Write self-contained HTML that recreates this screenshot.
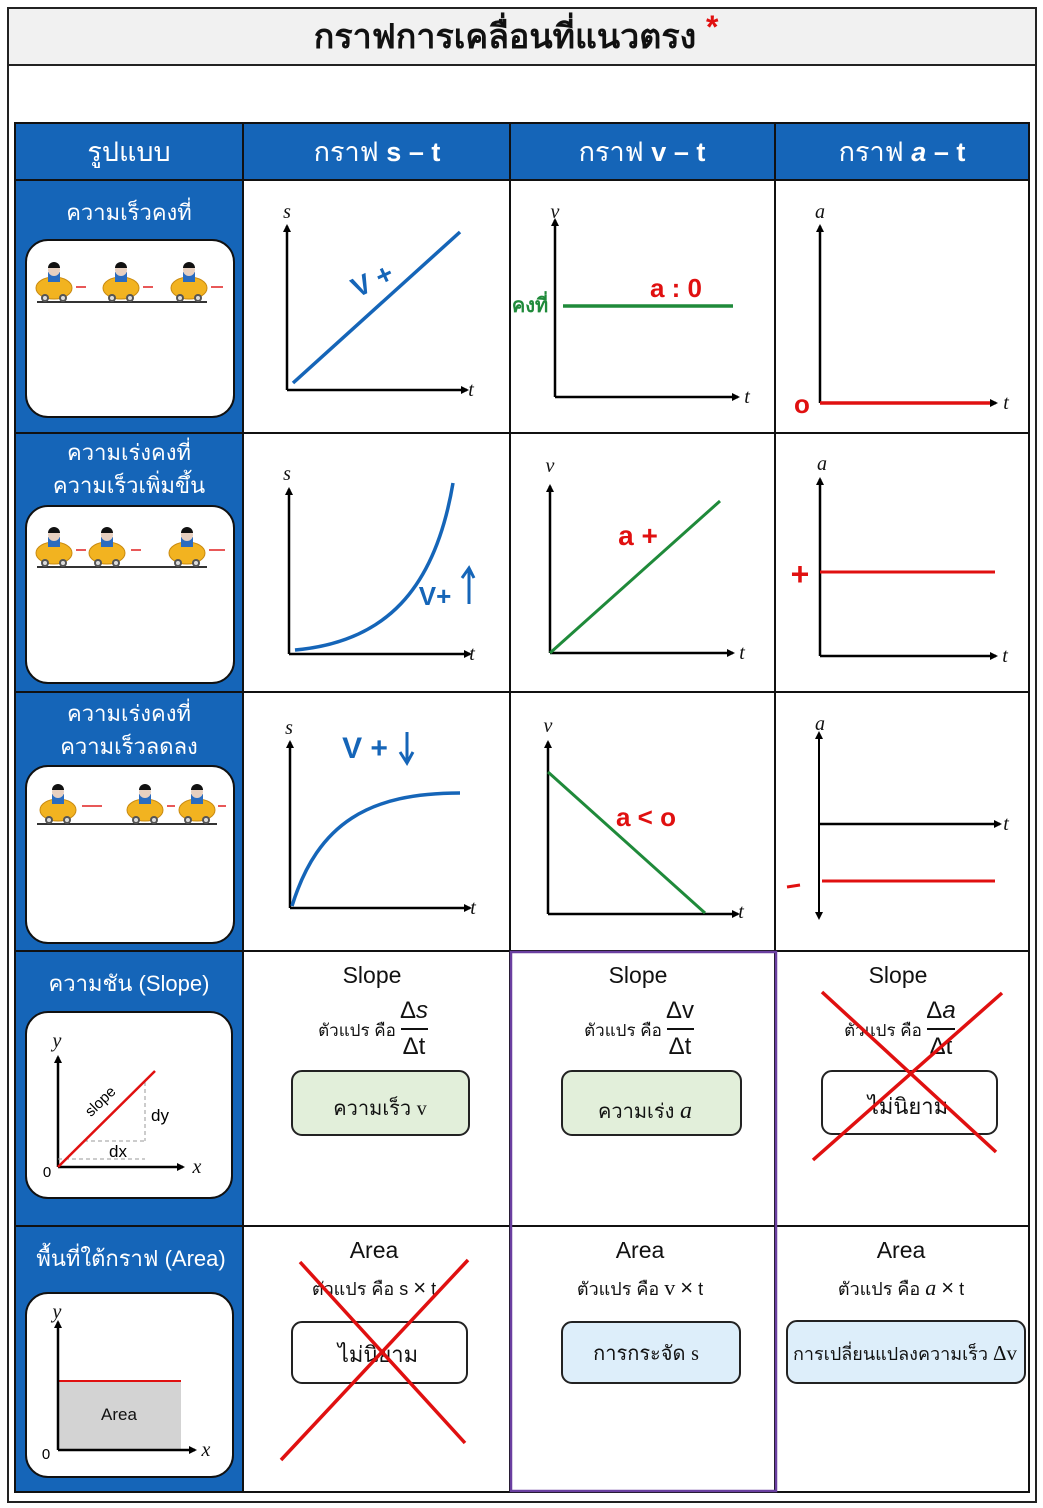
<!DOCTYPE html>
<html><head><meta charset="utf-8"><style>
html,body{margin:0;padding:0;background:#fff;}
svg{display:block;}
text{font-family:"Liberation Sans","DejaVu Sans",sans-serif;}
.w{fill:#fff;font-size:22px;text-anchor:middle;}
.h{fill:#fff;font-size:27px;text-anchor:middle;}
.ax{stroke:#000;stroke-width:2.5;fill:none;}
.lab{font-family:"Liberation Serif",serif;font-style:italic;font-size:20px;text-anchor:middle;fill:#111;}
.c{text-anchor:middle;fill:#111;}
</style></head><body>
<svg width="1043" height="1508" viewBox="0 0 1043 1508" xmlns="http://www.w3.org/2000/svg">
<defs>
<marker id="ar" markerWidth="8" markerHeight="8" refX="6" refY="4" orient="auto" markerUnits="userSpaceOnUse"><path d="M0,0 L8,4 L0,8 Z" fill="#000"/></marker>
<g id="car">
<ellipse cx="0" cy="-6" rx="18" ry="11" fill="#f2b320" stroke="#c98a10" stroke-width="1"/>
<rect x="-6" y="-22" width="12" height="10" fill="#2a6cc0"/>
<circle cx="0" cy="-24" r="6" fill="#e8d0c0"/>
<path d="M-6,-26 A6,6 0 0 1 6,-26 Z" fill="#111"/>
<circle cx="-9" cy="4" r="4" fill="#555"/><circle cx="9" cy="4" r="4" fill="#555"/>
<circle cx="-9" cy="4" r="2" fill="#ddd"/><circle cx="9" cy="4" r="2" fill="#ddd"/>
</g>
</defs>
<rect x="8" y="8" width="1028" height="1494" fill="#fff" stroke="#222" stroke-width="2"/>
<rect x="9" y="9" width="1026" height="56" fill="#f1f1f1"/>
<line x1="8" y1="65" x2="1036" y2="65" stroke="#222" stroke-width="2"/>
<text x="505" y="48" font-size="34" font-weight="bold" text-anchor="middle" fill="#111">กราฟการเคลื่อนที่แนวตรง</text>
<text x="706" y="38" font-size="32" font-weight="bold" fill="#e01010">*</text>

<rect x="15" y="123" width="1014" height="57" fill="#1565b8"/>
<rect x="15" y="180" width="228" height="1312" fill="#1565b8"/>
<g stroke="#111" stroke-width="2" fill="none">
<rect x="15" y="123" width="1014" height="1369"/>
<line x1="243" y1="123" x2="243" y2="1492"/>
<line x1="510" y1="123" x2="510" y2="1492"/>
<line x1="775" y1="123" x2="775" y2="1492"/>
<line x1="15" y1="180" x2="1029" y2="180"/>
<line x1="15" y1="433" x2="1029" y2="433"/>
<line x1="15" y1="692" x2="1029" y2="692"/>
<line x1="15" y1="951" x2="1029" y2="951"/>
<line x1="15" y1="1226" x2="1029" y2="1226"/>
</g>
<rect x="511" y="952" width="265" height="539" fill="none" stroke="#6a3fa0" stroke-width="2.5"/>

<text class="h" x="129" y="161">รูปแบบ</text>
<text class="h" x="377" y="161">กราฟ <tspan font-weight="bold">s – t</tspan></text>
<text class="h" x="642" y="161">กราฟ <tspan font-weight="bold">v – t</tspan></text>
<text class="h" x="902" y="161">กราฟ <tspan font-weight="bold" font-style="italic">a</tspan><tspan font-weight="bold"> – t</tspan></text>

<text class="w" x="129" y="220">ความเร็วคงที่</text>
<rect x="26" y="240" width="208" height="177" rx="22" fill="#fff" stroke="#111" stroke-width="2"/>
<line x1="37" y1="302" x2="207" y2="302" stroke="#333" stroke-width="2"/>
<use href="#car" x="54" y="294"/><use href="#car" x="121" y="294"/><use href="#car" x="189" y="294"/>
<g stroke="#e02020" stroke-width="1.5" fill="none"><path d="M76,287 h10"/><path d="M143,287 h10"/><path d="M211,287 h12"/></g>

<text class="w" x="129" y="460">ความเร่งคงที่</text>
<text class="w" x="129" y="493">ความเร็วเพิ่มขึ้น</text>
<rect x="26" y="506" width="208" height="177" rx="22" fill="#fff" stroke="#111" stroke-width="2"/>
<line x1="37" y1="567" x2="207" y2="567" stroke="#333" stroke-width="2"/>
<use href="#car" x="54" y="559"/><use href="#car" x="107" y="559"/><use href="#car" x="187" y="559"/>
<g stroke="#e02020" stroke-width="1.5" fill="none"><path d="M76,550 h10"/><path d="M131,550 h10"/><path d="M209,550 h16"/></g>

<text class="w" x="129" y="721">ความเร่งคงที่</text>
<text class="w" x="129" y="754">ความเร็วลดลง</text>
<rect x="26" y="766" width="208" height="177" rx="22" fill="#fff" stroke="#111" stroke-width="2"/>
<line x1="37" y1="824" x2="217" y2="824" stroke="#333" stroke-width="2"/>
<use href="#car" x="58" y="816"/><use href="#car" x="145" y="816"/><use href="#car" x="197" y="816"/>
<g stroke="#e02020" stroke-width="1.5" fill="none"><path d="M82,806 h20"/><path d="M167,806 h8"/><path d="M218,806 h8"/></g>

<text class="w" x="129" y="991">ความชัน (Slope)</text>
<rect x="26" y="1012" width="206" height="186" rx="22" fill="#fff" stroke="#111" stroke-width="2"/>
<line class="ax" x1="58" y1="1167" x2="58" y2="1057" marker-end="url(#ar)" stroke-width="2"/>
<line class="ax" x1="58" y1="1167" x2="183" y2="1167" marker-end="url(#ar)" stroke-width="2"/>
<g stroke="#999" stroke-width="1" stroke-dasharray="4,3"><line x1="145" y1="1082" x2="145" y2="1141"/><line x1="84" y1="1141" x2="145" y2="1141"/><line x1="58" y1="1159" x2="145" y2="1159"/></g>
<line x1="58" y1="1167" x2="155" y2="1071" stroke="#e01010" stroke-width="2.5"/>
<text class="lab" x="57" y="1047" font-size="16">y</text>
<text class="lab" x="197" y="1173" font-size="16">x</text>
<text x="47" y="1177" font-family="Liberation Serif" font-size="15" text-anchor="middle">0</text>
<text x="160" y="1121" font-family="Liberation Serif" font-size="17" text-anchor="middle">dy</text>
<text x="118" y="1157" font-family="Liberation Serif" font-size="17" text-anchor="middle">dx</text>
<text x="101" y="1106" font-size="15" text-anchor="middle" transform="rotate(-44 101 1102)">slope</text>

<text class="w" x="131" y="1266">พื้นที่ใต้กราฟ (Area)</text>
<rect x="26" y="1293" width="207" height="184" rx="22" fill="#fff" stroke="#111" stroke-width="2"/>
<rect x="59" y="1381" width="122" height="68" fill="#d3d3d3"/>
<line x1="59" y1="1381" x2="181" y2="1381" stroke="#e01010" stroke-width="2"/>
<line class="ax" x1="58" y1="1450" x2="58" y2="1322" marker-end="url(#ar)" stroke-width="2"/>
<line class="ax" x1="58" y1="1450" x2="195" y2="1450" marker-end="url(#ar)" stroke-width="2"/>
<text x="119" y="1420" font-size="17" text-anchor="middle" fill="#111">Area</text>
<text class="lab" x="57" y="1318" font-size="16">y</text>
<text class="lab" x="206" y="1456" font-size="16">x</text>
<text x="46" y="1459" font-family="Liberation Serif" font-size="15" text-anchor="middle">0</text>

<line class="ax" x1="287" y1="390" x2="287" y2="226" marker-end="url(#ar)"/>
<line class="ax" x1="287" y1="390" x2="467" y2="390" marker-end="url(#ar)"/>
<text class="lab" x="287" y="218">s</text><text class="lab" x="471" y="396">t</text>
<line x1="293" y1="383" x2="460" y2="232" stroke="#1565b8" stroke-width="3.5"/>
<text x="372" y="290" font-size="28" font-weight="bold" fill="#1565b8" text-anchor="middle" transform="rotate(-25 372 280)">V +</text>

<line class="ax" x1="555" y1="397" x2="555" y2="220" marker-end="url(#ar)"/>
<line class="ax" x1="555" y1="397" x2="738" y2="397" marker-end="url(#ar)"/>
<text class="lab" x="555" y="218">v</text><text class="lab" x="747" y="403">t</text>
<line x1="563" y1="306" x2="733" y2="306" stroke="#1f8a3a" stroke-width="3.5"/>
<text x="530" y="312" font-size="20" font-weight="bold" fill="#1f8a3a" text-anchor="middle">คงที่</text>
<text x="676" y="297" font-size="26" font-weight="bold" fill="#e01010" text-anchor="middle">a : 0</text>

<line class="ax" x1="820" y1="403" x2="820" y2="226" marker-end="url(#ar)"/>
<line class="ax" x1="820" y1="403" x2="996" y2="403" marker-end="url(#ar)"/>
<text class="lab" x="820" y="218">a</text><text class="lab" x="1006" y="409">t</text>
<line x1="820" y1="403" x2="990" y2="403" stroke="#e01010" stroke-width="3.5"/>
<text x="802" y="413" font-size="26" font-weight="bold" fill="#e01010" text-anchor="middle">o</text>

<line class="ax" x1="289" y1="654" x2="289" y2="489" marker-end="url(#ar)"/>
<line class="ax" x1="289" y1="654" x2="470" y2="654" marker-end="url(#ar)"/>
<text class="lab" x="287" y="480">s</text><text class="lab" x="472" y="660">t</text>
<path d="M295,650 C385,642 435,590 453,483" stroke="#1565b8" stroke-width="3.5" fill="none"/>
<text x="435" y="605" font-size="26" font-weight="bold" fill="#1565b8" text-anchor="middle">V+</text>
<path d="M469,604 V570 M462,578 L469,568 L474,578" stroke="#1565b8" stroke-width="3" fill="none"/>

<line class="ax" x1="550" y1="653" x2="550" y2="486" marker-end="url(#ar)"/>
<line class="ax" x1="550" y1="653" x2="733" y2="653" marker-end="url(#ar)"/>
<text class="lab" x="550" y="472">v</text><text class="lab" x="742" y="659">t</text>
<line x1="550" y1="653" x2="720" y2="501" stroke="#1f8a3a" stroke-width="3"/>
<text x="638" y="545" font-size="28" font-weight="bold" fill="#e01010" text-anchor="middle">a +</text>

<line class="ax" x1="820" y1="656" x2="820" y2="479" marker-end="url(#ar)"/>
<line class="ax" x1="820" y1="656" x2="996" y2="656" marker-end="url(#ar)"/>
<text class="lab" x="822" y="470">a</text><text class="lab" x="1005" y="662">t</text>
<line x1="820" y1="572" x2="995" y2="572" stroke="#e01010" stroke-width="3"/>
<text x="800" y="585" font-size="32" font-weight="bold" fill="#e01010" text-anchor="middle">+</text>

<line class="ax" x1="290" y1="908" x2="290" y2="742" marker-end="url(#ar)"/>
<line class="ax" x1="290" y1="908" x2="470" y2="908" marker-end="url(#ar)"/>
<text class="lab" x="289" y="734">s</text><text class="lab" x="473" y="914">t</text>
<path d="M292,906 C318,822 370,793 460,793" stroke="#1565b8" stroke-width="3.5" fill="none"/>
<text x="365" y="758" font-size="30" font-weight="bold" fill="#1565b8" text-anchor="middle">V +</text>
<path d="M407,732 V762 M400,752 L407,763 L413,752" stroke="#1565b8" stroke-width="3" fill="none"/>

<line class="ax" x1="548" y1="914" x2="548" y2="742" marker-end="url(#ar)"/>
<line class="ax" x1="548" y1="914" x2="738" y2="914" marker-end="url(#ar)"/>
<text class="lab" x="548" y="732">v</text><text class="lab" x="741" y="918">t</text>
<line x1="548" y1="772" x2="705" y2="913" stroke="#1f8a3a" stroke-width="3"/>
<text x="646" y="826" font-size="26" font-weight="bold" fill="#e01010" text-anchor="middle">a &lt; o</text>

<line x1="819" y1="918" x2="819" y2="733" stroke="#000" stroke-width="2" marker-end="url(#ar)"/>
<path d="M815,912 L819,920 L823,912 Z" fill="#000"/>
<line class="ax" x1="819" y1="824" x2="1000" y2="824" marker-end="url(#ar)"/>
<text class="lab" x="820" y="730">a</text><text class="lab" x="1006" y="830">t</text>
<line x1="822" y1="881" x2="995" y2="881" stroke="#e01010" stroke-width="3"/>
<line x1="787" y1="887" x2="800" y2="885" stroke="#e01010" stroke-width="3"/>

<g font-size="23">
<text class="c" x="372" y="983">Slope</text>
<text class="c" x="638" y="983">Slope</text>
<text class="c" x="898" y="983">Slope</text>
</g>
<g font-size="17">
<text class="c" x="357" y="1036">ตัวแปร คือ</text>
<text class="c" x="623" y="1036">ตัวแปร คือ</text>
<text class="c" x="883" y="1036">ตัวแปร คือ</text>
</g>
<g font-family="Liberation Serif" font-size="24" text-anchor="middle" fill="#111">
<text x="414" y="1018">Δ<tspan font-style="italic">s</tspan></text><text x="414" y="1054">Δt</text>
<text x="680" y="1018">Δv</text><text x="680" y="1054">Δt</text>
<text x="941" y="1018">Δ<tspan font-style="italic">a</tspan></text><text x="941" y="1054">Δt</text>
</g>
<g stroke="#111" stroke-width="2"><line x1="401" y1="1029" x2="428" y2="1029"/><line x1="667" y1="1029" x2="694" y2="1029"/><line x1="927" y1="1029" x2="955" y2="1029"/></g>
<rect x="292" y="1071" width="177" height="64" rx="10" fill="#e2efda" stroke="#222" stroke-width="2"/>
<text class="c" x="380" y="1115" font-size="20">ความเร็ว <tspan font-family="Liberation Serif">v</tspan></text>
<rect x="562" y="1071" width="179" height="64" rx="10" fill="#e2efda" stroke="#222" stroke-width="2"/>
<text class="c" x="645" y="1118" font-size="20">ความเร่ง <tspan font-family="Liberation Serif" font-style="italic" font-size="24">a</tspan></text>
<rect x="822" y="1071" width="175" height="63" rx="10" fill="#fff" stroke="#222" stroke-width="2"/>
<text class="c" x="908" y="1114" font-size="22">ไม่นิยาม</text>
<g stroke="#e01010" stroke-width="3.5"><line x1="822" y1="992" x2="996" y2="1152"/><line x1="1002" y1="993" x2="813" y2="1160"/></g>

<g font-size="23">
<text class="c" x="374" y="1258">Area</text>
<text class="c" x="640" y="1258">Area</text>
<text class="c" x="901" y="1258">Area</text>
</g>
<g font-size="18">
<text class="c" x="374" y="1295">ตัวแปร คือ s <tspan font-size="22">×</tspan> t</text>
<text class="c" x="640" y="1295">ตัวแปร คือ <tspan font-family="Liberation Serif" font-size="22">v</tspan> <tspan font-size="22">×</tspan> t</text>
<text class="c" x="901" y="1295">ตัวแปร คือ <tspan font-family="Liberation Serif" font-style="italic" font-size="22">a</tspan> <tspan font-size="22">×</tspan> t</text>
</g>
<rect x="292" y="1322" width="175" height="61" rx="10" fill="#fff" stroke="#222" stroke-width="2"/>
<text class="c" x="378" y="1362" font-size="22">ไม่นิยาม</text>
<g stroke="#e01010" stroke-width="3.5"><line x1="300" y1="1262" x2="465" y2="1443"/><line x1="468" y1="1260" x2="281" y2="1460"/></g>
<rect x="562" y="1322" width="178" height="61" rx="10" fill="#ddeefa" stroke="#222" stroke-width="2"/>
<text class="c" x="646" y="1360" font-size="20">การกระจัด <tspan font-family="Liberation Serif">s</tspan></text>
<rect x="787" y="1321" width="238" height="62" rx="10" fill="#ddeefa" stroke="#222" stroke-width="2"/>
<text class="c" x="905" y="1360" font-size="18" textLength="224" lengthAdjust="spacingAndGlyphs">การเปลี่ยนแปลงความเร็ว <tspan font-family="Liberation Serif" font-size="21">Δv</tspan></text>
</svg>
</body></html>
